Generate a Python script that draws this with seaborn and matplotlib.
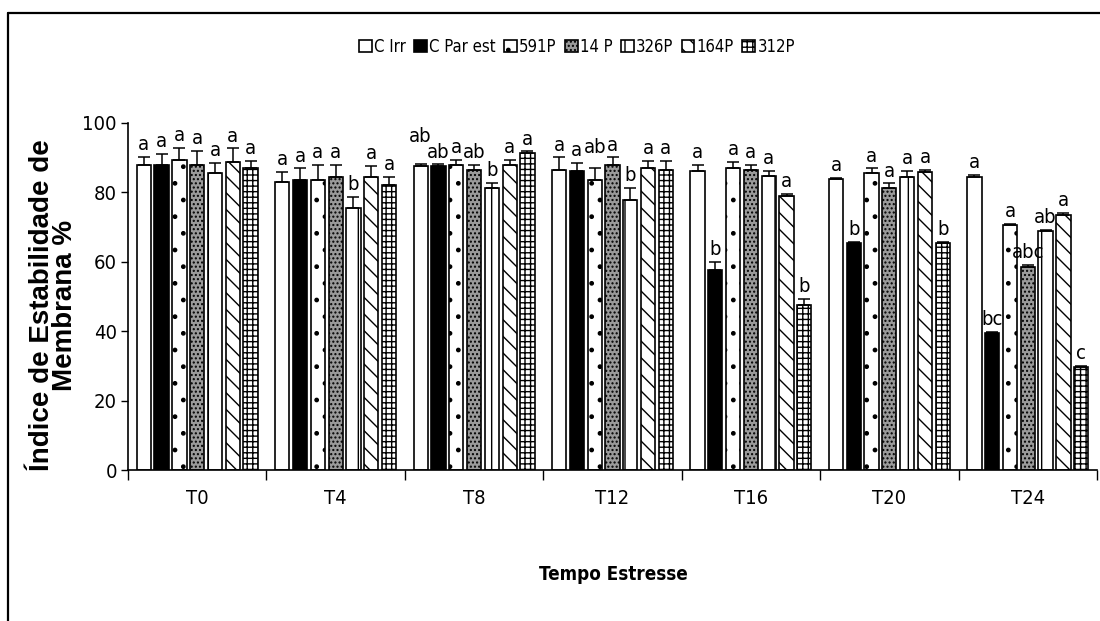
import numpy as np
import pandas as pd
import seaborn as sns
import matplotlib.pyplot as plt
from matplotlib import font_manager as fm
from matplotlib.lines import Line2D

sns.set_theme(style="white")

# Prefer a narrow sans face for the chart text when one is available
narrow = None
for f in fm.fontManager.ttflist:
    n = f.name
    if "Mono" in n or "Serif" in n:
        continue
    if "Narrow" in n or "Condensed" in n or f.stretch in ("condensed", "semi-condensed"):
        narrow = f
        break

if narrow is not None:
    base_family = [narrow.name, "DejaVu Sans"]
    plt.rcParams["font.stretch"] = narrow.stretch
    fs_tick, fs_letter, fs_leg, fs_xlab = 14.5, 14.5, 12, 13.5
else:
    base_family = ["Liberation Sans", "DejaVu Sans"]
    fs_tick, fs_letter, fs_leg, fs_xlab = 13, 13, 10.5, 12.5
plt.rcParams["font.family"] = base_family
plt.rcParams["hatch.linewidth"] = 1.0
for key in ["text.color", "axes.labelcolor", "xtick.color", "ytick.color", "axes.edgecolor"]:
    plt.rcParams[key] = "black"

# Stress times and genotypes
times = ["T0", "T4", "T8", "T12", "T16", "T20", "T24"]
genotypes = ["C Irr", "C Par est", "591P", "14 P", "326P", "164P", "312P"]

# Membrane stability index (%) per genotype along the stress times
c_irr = [87.9, 83.0, 87.6, 86.5, 86.2, 83.8, 84.5]
c_par = [88.0, 83.6, 87.6, 86.2, 57.6, 65.3, 39.4]
g591 = [89.3, 83.6, 87.9, 83.6, 86.9, 85.5, 70.6]
g14 = [88.0, 84.5, 86.5, 87.9, 86.5, 81.2, 58.6]
g326 = [85.6, 75.4, 81.2, 77.8, 84.7, 84.5, 69.0]
g164 = [88.7, 84.4, 87.9, 86.9, 79.0, 86.0, 73.5]
g312 = [87.0, 82.1, 91.3, 86.5, 47.6, 65.3, 29.8]

# Standard errors
e_irr = [2.4, 3.0, 0.5, 3.6, 1.7, 0.3, 0.5]
e_par = [3.0, 3.3, 0.5, 2.4, 2.3, 0.5, 0.5]
e_591 = [3.5, 4.3, 1.4, 3.3, 1.8, 1.4, 0.3]
e_14 = [4.0, 3.4, 1.4, 2.2, 1.4, 1.4, 0.5]
e_326 = [3.0, 3.2, 1.6, 3.4, 1.6, 1.8, 0.3]
e_164 = [4.0, 3.3, 1.4, 2.1, 0.5, 0.5, 0.5]
e_312 = [2.0, 2.3, 0.5, 2.5, 1.7, 0.5, 0.3]

# Mean comparison letters
l_irr = ["a", "a", "ab", "a", "a", "a", "a"]
l_par = ["a", "a", "ab", "a", "b", "b", "bc"]
l_591 = ["a", "a", "a", "ab", "a", "a", "a"]
l_14 = ["a", "a", "ab", "a", "a", "a", "abc"]
l_326 = ["a", "b", "b", "b", "a", "a", "ab"]
l_164 = ["a", "a", "a", "a", "a", "a", "a"]
l_312 = ["a", "a", "a", "a", "b", "b", "c"]

values = [c_irr, c_par, g591, g14, g326, g164, g312]
errors = [e_irr, e_par, e_591, e_14, e_326, e_164, e_312]
letters = [l_irr, l_par, l_591, l_14, l_326, l_164, l_312]

df = pd.DataFrame(
    [(t, g, v) for g, vals in zip(genotypes, values) for t, v in zip(times, vals)],
    columns=["Tempo", "Genotipo", "IEM"],
)

fig = plt.figure(figsize=(11, 6.21), dpi=100)
ax = fig.add_axes([128 / 1100, 1 - 470 / 621, (1097 - 128) / 1100, (470 - 123) / 621])

sns.barplot(
    data=df, x="Tempo", y="IEM", hue="Genotipo",
    order=times, hue_order=genotypes,
    palette=["white"] * len(genotypes),
    edgecolor="black", linewidth=1.2,
    width=0.9, gap=0.2, errorbar=None, legend=False, ax=ax,
)

faces = ["white", "black", "white", "#9a9a9a", "white", "white", "white"]
hatches = ["", "", ".", "....", "|", "\\\\", "+++"]

# Stagger crowded letter labels (points, keyed by genotype index and time index)
lift = {(0, 2): 11, (2, 3): 6}

bar_groups = list(ax.containers)
for i, cont in enumerate(bar_groups):
    for p in cont:
        p.set_facecolor(faces[i])
        p.set_hatch(hatches[i])
        p.set_edgecolor("black")
    xs = [p.get_x() + p.get_width() / 2 for p in cont]
    vals = np.array(values[i])
    errs = np.array(errors[i])
    ax.errorbar(xs, vals, yerr=[np.zeros_like(errs), errs], fmt="none",
                ecolor="black", elinewidth=1.1, capsize=4, capthick=1.1, zorder=3)
    for j, (x, v, e, lab) in enumerate(zip(xs, vals, errs, letters[i])):
        ax.annotate(lab, (x, v + e), xytext=(0, 2 + lift.get((i, j), 0)),
                    textcoords="offset points", ha="center", va="bottom",
                    fontsize=fs_letter, color="black", annotation_clip=False)

ax.set_ylim(0, 100)
ax.set_xlim(-0.5, len(times) - 0.5)
ax.set_yticks(range(0, 101, 20))
ax.set_xticks(range(len(times)))
ax.set_xticks(np.arange(-0.5, len(times), 1.0), minor=True)
ax.tick_params(axis="x", which="major", length=0, pad=14, labelsize=fs_tick, labelcolor="black")
ax.tick_params(axis="x", which="minor", length=7, width=1, direction="out", color="black", bottom=True)
ax.tick_params(axis="y", which="major", length=5, width=1, direction="out", color="black",
               left=True, labelsize=fs_tick, pad=3, labelcolor="black")
ax.set_xlabel("")
ax.set_ylabel("")

for side in ["top", "right"]:
    ax.spines[side].set_visible(False)
for side in ["left", "bottom"]:
    ax.spines[side].set_color("black")
    ax.spines[side].set_linewidth(1.2)

fig.text(613 / 1100, 1 - 575 / 621, "Tempo Estresse", ha="center", va="center",
         fontsize=fs_xlab, fontweight="bold", color="black")
ylab_font = fm.FontProperties(family=["Liberation Sans", "DejaVu Sans"], weight="bold",
                              stretch="normal", size=20)
fig.text(54 / 1100, 1 - 305 / 621, "Índice de Estabilidade de\nMembrana %",
         rotation=90, ha="center", va="center", multialignment="center",
         fontproperties=ylab_font, linespacing=0.85, color="black")

ax.legend(handles=bar_groups, labels=genotypes, ncol=7, loc="center",
          bbox_to_anchor=(577 / 1100, 1 - 47 / 621), bbox_transform=fig.transFigure,
          frameon=False, handlelength=0.75, handleheight=0.75, handletextpad=0.15,
          columnspacing=0.5, fontsize=fs_leg, borderaxespad=0)

# Frame around the figure
fig.add_artist(Line2D([8 / 1100, 1], [1 - 12.5 / 621, 1 - 12.5 / 621],
                      transform=fig.transFigure, color="black", lw=1.6))
fig.add_artist(Line2D([8 / 1100, 8 / 1100], [0, 1 - 12.5 / 621],
                      transform=fig.transFigure, color="black", lw=1.6))

fig.savefig("out.png", dpi=100, facecolor="white")
